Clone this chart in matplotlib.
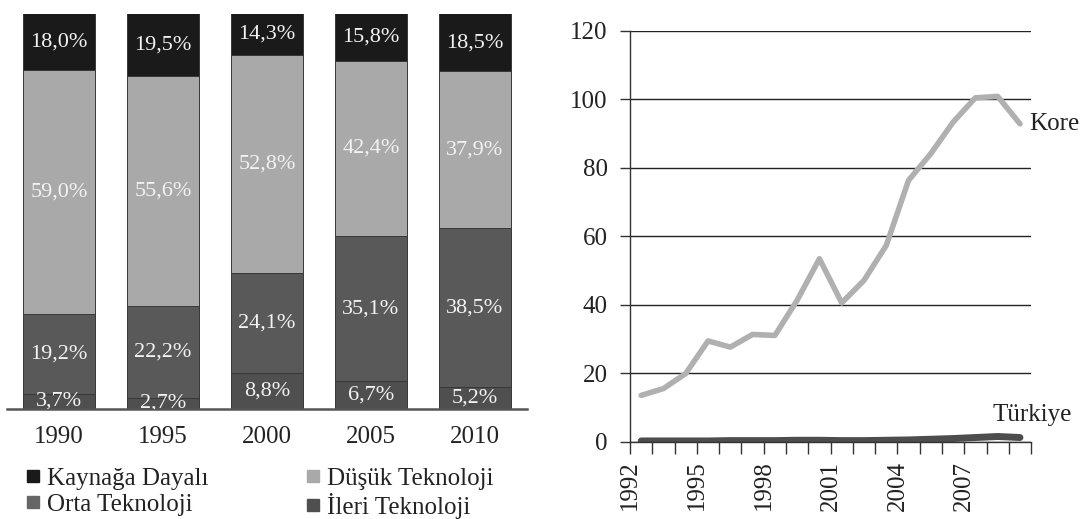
import matplotlib.pyplot as plt
from matplotlib.lines import Line2D
import numpy as np

plt.rcParams["font.family"] = "Liberation Serif"

# left panel: share of exports by technology level (%)
bar_years = ["1990", "1995", "2000", "2005", "2010"]
ileri = [3.7, 2.7, 8.8, 6.7, 5.2]
orta = [19.2, 22.2, 24.1, 35.1, 38.5]
dusuk = [59.0, 55.6, 52.8, 42.4, 37.9]
kaynak = [18.0, 19.5, 14.3, 15.8, 18.5]

# right panel: Kore vs Türkiye
line_years = list(range(1992, 2010))
kore = [13.6, 15.6, 20.0, 29.5, 27.7, 31.4, 31.1, 41.4, 53.5, 40.6,
        47.2, 57.4, 76.4, 84.2, 93.4, 100.5, 100.9, 92.9]
turkiye = [0.3, 0.3, 0.3, 0.3, 0.4, 0.4, 0.4, 0.5, 0.5, 0.4,
           0.4, 0.5, 0.6, 0.8, 1.0, 1.3, 1.6, 1.3]

C_KAYNAK = "#1a1a1a"
C_DUSUK = "#a9a9a9"
C_ORTA = "#595959"
C_ILERI = "#4f4f4f"
YMAX_LEFT = 95.5

fig = plt.figure(figsize=(10.91, 5.19), dpi=100)

# ---- stacked bars
ax1 = fig.add_axes([0.0064, 0.212, 0.4766, 0.761])
x = np.arange(len(bar_years))
bottom = np.zeros(len(bar_years))
for vals, color in [(ileri, C_ILERI), (orta, C_ORTA), (dusuk, C_DUSUK), (kaynak, C_KAYNAK)]:
    vals = np.array(vals)
    ax1.bar(x, vals, bottom=bottom, width=0.69, color=color,
            edgecolor="#383838", linewidth=0.7)
    for xi, b, v in zip(x, bottom, vals):
        top = min(b + v, YMAX_LEFT)
        ax1.text(xi, (b + top) / 2, f"{v:.1f}".replace(".", ",") + "%",
                 ha="center", va="center", color="#f2f2f2", fontsize=16,
                 clip_on=True)
    bottom += vals

ax1.set_xlim(-0.5, 4.5)
ax1.set_ylim(0, YMAX_LEFT)
ax1.set_xticks(x)
ax1.set_xticklabels(bar_years, fontsize=18, color="#222222")
ax1.tick_params(axis="x", length=0, pad=12)
ax1.set_yticks([])
for s in ["left", "top", "right"]:
    ax1.spines[s].set_visible(False)
ax1.spines["bottom"].set_color("#555555")
ax1.spines["bottom"].set_linewidth(1.8)

handles = [
    Line2D([], [], marker="s", linestyle="none", markersize=9, color=C_KAYNAK),
    Line2D([], [], marker="s", linestyle="none", markersize=9, color="#666666"),
    Line2D([], [], marker="s", linestyle="none", markersize=9, color=C_DUSUK),
    Line2D([], [], marker="s", linestyle="none", markersize=9, color=C_ILERI),
]
labels = ["Kaynağa Dayalı", "Orta Teknoloji", "Düşük Teknoloji", "İleri Teknoloji"]
fig.legend(handles, labels, loc="upper left", bbox_to_anchor=(0.022, 0.099),
           ncol=2, frameon=False, fontsize=18, handlelength=0.7,
           handletextpad=0.2, columnspacing=3.86, labelspacing=0.12,
           borderpad=0, borderaxespad=0, labelcolor="#222222")

# ---- line chart
ax2 = fig.add_axes([0.5775, 0.1484, 0.3676, 0.7919])
ax2.plot(line_years, kore, color="#b0b0b0", linewidth=4.0, solid_capstyle="round")
ax2.plot(line_years, turkiye, color="#4d4d4d", linewidth=5.0, solid_capstyle="round")
ax2.set_xlim(1991.5, 2009.5)
ax2.set_ylim(0, 120)
ax2.set_yticks(range(0, 121, 20))
ax2.yaxis.grid(True, color="#222222", linewidth=1.0)
ax2.set_axisbelow(True)
ax2.tick_params(axis="y", labelsize=18, length=7, width=1.0, color="#333333",
                pad=9, labelcolor="#222222")

label_years = [1992, 1995, 1998, 2001, 2004, 2007]
ax2.set_xticks([yr - 0.5 for yr in label_years])
ax2.set_xticklabels([str(yr) for yr in label_years], rotation=90)
ax2.set_xticks(np.arange(1991.5, 2010.0, 1.0), minor=True)
ax2.tick_params(axis="x", which="both", length=8.5, width=1.0, color="#333333")
ax2.tick_params(axis="x", which="major", labelsize=18, pad=5, labelcolor="#222222")

for s in ["top", "right"]:
    ax2.spines[s].set_visible(False)
for s in ["left", "bottom"]:
    ax2.spines[s].set_color("#333333")
    ax2.spines[s].set_linewidth(1.0)

ax2.annotate("Kore", (line_years[-1], kore[-1]), xytext=(7, 0),
             textcoords="offset points", ha="left", va="center",
             fontsize=18, color="#222222", annotation_clip=False)
ax2.annotate("Türkiye", (line_years[-1], turkiye[-1]), xytext=(-19.5, 16),
             textcoords="offset points", ha="left", va="center",
             fontsize=18, color="#222222", annotation_clip=False)

fig.savefig("out.png", dpi=100)
